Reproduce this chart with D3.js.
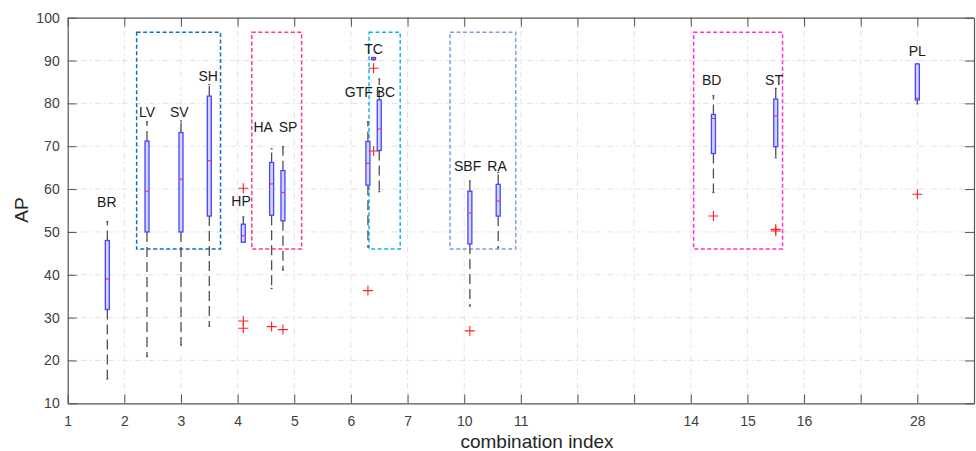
<!DOCTYPE html>
<html>
<head>
<meta charset="utf-8">
<script src="https://cdn.jsdelivr.net/npm/d3@7"></script>
<style>
  body { margin: 0; background: #fff; }
  svg { font-family: "Liberation Sans", Arial, sans-serif; }
</style>
</head>
<body>
<div id="chart"></div>
<script>
// box statistics, one entry per combination
var names   = ["BR", "LV", "SV", "SH", "HP", "HA", "SP", "GTF", "TC", "BC", "SBF", "RA", "BD", "ST", "PL"];
var xPos    = [1.7, 2.4, 3.0, 3.5, 4.1, 4.6, 4.8, 6.3, 6.4, 6.5, 8.1, 8.6, 12.4, 13.5, 16.0];
var q1      = [31.9, 50.0, 50.0, 53.7, 47.6, 53.9, 52.6, 60.9, 90.2, 69.0, 47.2, 53.7, 68.3, 69.9, 80.8];
var medians = [39.0, 59.5, 62.3, 66.6, 49.1, 61.2, 59.2, 66.0, 90.4, 74.0, 54.4, 57.2, 76.5, 77.1, 81.2];
var q3      = [48.0, 71.2, 73.2, 81.7, 51.8, 66.2, 64.3, 71.1, 90.7, 80.8, 59.5, 61.1, 77.4, 81.0, 89.2];
var whiskLo = [15.7, 20.9, 23.6, 28.0, 47.6, 36.8, 41.1, 46.5, 90.2, 59.4, 32.7, 46.3, 59.2, 67.3, 79.9];
var whiskHi = [52.4, 75.7, 75.9, 84.4, 53.5, 69.4, 69.9, 75.7, 90.7, 85.7, 61.9, 63.9, 81.8, 83.5, 89.2];
var outliers = [[], [], [], [], [60.2, 29.2, 27.5], [27.9], [27.2], [36.3], [88.2, 68.9], [], [26.9], [], [53.7], [50.6, 50.2], [58.8]];

// name annotations (data units)
var labelX = [1.69, 2.4, 2.97, 3.48, 4.06, 4.45, 4.89, 6.14, 6.4, 6.61, 8.06, 8.58, 12.37, 13.47, 16.0];
var labelY = [57.0, 78.0, 78.0, 86.4, 57.2, 74.6, 74.6, 82.7, 92.6, 82.7, 65.4, 65.4, 85.4, 85.4, 92.3];

// dashed group frames
var groupX0 = [2.217, 4.25, 6.32, 7.75, 12.05];
var groupX1 = [3.698, 5.13, 6.87, 8.91, 13.62];
var groupY0 = [46.0, 46.0, 46.0, 46.0, 46.0];
var groupY1 = [96.6, 96.6, 96.6, 96.6, 96.6];
var groupColors = ["#0a72c0", "#ff3a80", "#12b4ea", "#7f9fe0", "#ff2fd4"];

var xTickLabels = ["1", "2", "3", "4", "5", "6", "7", "10", "11", "", "", "14", "15", "16", "", "28"];
var yTicks = [10, 20, 30, 40, 50, 60, 70, 80, 90, 100];

var width = 976, height = 451;
var plotL = 67.7, plotR = 974, plotT = 17.7, plotB = 403.3;

var svg = d3.select("#chart").append("svg")
    .attr("width", width)
    .attr("height", height);

var x = d3.scaleLinear().domain([1, 17]).range([plotL, plotR]);
var y = d3.scaleLinear().domain([10, 100]).range([plotB, plotT]);
var xTicks = d3.range(1, 17);

// grid
svg.append("g").selectAll("line")
    .data(xTicks.slice(1))
    .enter().append("line")
    .attr("x1", d => x(d)).attr("x2", d => x(d))
    .attr("y1", plotT).attr("y2", plotB)
    .attr("stroke", "#e2e2ea").attr("stroke-dasharray", "6,3,1.5,3");
svg.append("g").selectAll("line")
    .data(yTicks.slice(1, -1))
    .enter().append("line")
    .attr("x1", plotL).attr("x2", plotR)
    .attr("y1", d => y(d)).attr("y2", d => y(d))
    .attr("stroke", "#e2e2ea").attr("stroke-dasharray", "6,3,1.5,3");

// axes
function styleAxis(g) {
    g.selectAll("path, line").attr("stroke", "#555");
    g.selectAll("text").attr("fill", "#404040").style("font-size", "14px");
}
svg.append("g")
    .attr("transform", "translate(0," + plotB + ")")
    .call(d3.axisBottom(x).tickValues(xTicks).tickFormat((d, i) => xTickLabels[i])
        .tickSizeInner(-9).tickSizeOuter(0).tickPadding(13))
    .call(styleAxis);
svg.append("g")
    .attr("transform", "translate(0," + plotT + ")")
    .call(d3.axisTop(x).tickValues(xTicks).tickFormat("").tickSizeInner(-9).tickSizeOuter(0))
    .call(styleAxis);
svg.append("g")
    .attr("transform", "translate(" + plotL + ",0)")
    .call(d3.axisLeft(y).tickValues(yTicks).tickSizeInner(-9).tickSizeOuter(0).tickPadding(8))
    .call(styleAxis);
svg.append("g")
    .attr("transform", "translate(" + plotR + ",0)")
    .call(d3.axisRight(y).tickValues(yTicks).tickFormat("").tickSizeInner(-9).tickSizeOuter(0))
    .call(styleAxis);

svg.selectAll(".domain").attr("stroke-width", 1.2);

// axis titles
svg.append("text")
    .attr("x", 537).attr("y", 448)
    .attr("text-anchor", "middle")
    .attr("fill", "#262626")
    .style("font-size", "19px")
    .text("combination index");
svg.append("text")
    .attr("transform", "translate(28,210) rotate(-90)")
    .attr("text-anchor", "middle")
    .attr("fill", "#262626")
    .style("font-size", "19px")
    .text("AP");

// group frames
svg.append("g").selectAll("rect")
    .data(groupColors)
    .enter().append("rect")
    .attr("x", (d, i) => x(groupX0[i]))
    .attr("y", (d, i) => y(groupY1[i]))
    .attr("width", (d, i) => x(groupX1[i]) - x(groupX0[i]))
    .attr("height", (d, i) => y(groupY0[i]) - y(groupY1[i]))
    .attr("fill", "none")
    .attr("stroke", d => d)
    .attr("stroke-width", 1.5)
    .attr("stroke-dasharray", "4,2.5");

// boxes
var boxW = 4;
var boxes = svg.append("g").selectAll("g")
    .data(names)
    .enter().append("g");

boxes.append("line")
    .attr("x1", (d, i) => x(xPos[i])).attr("x2", (d, i) => x(xPos[i]))
    .attr("y1", (d, i) => y(q3[i])).attr("y2", (d, i) => y(whiskHi[i]))
    .attr("stroke", "#505050").attr("stroke-width", 1.3).attr("stroke-dasharray", "10,5");
boxes.append("line")
    .attr("x1", (d, i) => x(xPos[i])).attr("x2", (d, i) => x(xPos[i]))
    .attr("y1", (d, i) => y(q1[i])).attr("y2", (d, i) => y(whiskLo[i]))
    .attr("stroke", "#505050").attr("stroke-width", 1.3).attr("stroke-dasharray", "10,5");
// whisker caps
boxes.selectAll(".cap")
    .data((d, i) => [[xPos[i], whiskHi[i]], [xPos[i], whiskLo[i]]])
    .enter().append("line")
    .attr("x1", d => x(d[0]) - 1).attr("x2", d => x(d[0]) + 1)
    .attr("y1", d => y(d[1])).attr("y2", d => y(d[1]))
    .attr("stroke", "#555").attr("stroke-width", 1.3);

boxes.append("rect")
    .attr("x", (d, i) => x(xPos[i]) - boxW / 2)
    .attr("y", (d, i) => y(q3[i]))
    .attr("width", boxW)
    .attr("height", (d, i) => Math.max(y(q1[i]) - y(q3[i]), 1.5))
    .attr("fill", "#d4d4ff")
    .attr("stroke", "#4646ff")
    .attr("stroke-width", 1.3);
boxes.append("line")
    .attr("x1", (d, i) => x(xPos[i]) - boxW / 2 + 0.5)
    .attr("x2", (d, i) => x(xPos[i]) + boxW / 2 - 0.5)
    .attr("y1", (d, i) => y(medians[i])).attr("y2", (d, i) => y(medians[i]))
    .attr("stroke", "#ff3030").attr("stroke-width", 1.2);

// outliers
boxes.selectAll(".out")
    .data((d, i) => outliers[i].map(v => [xPos[i], v]))
    .enter().append("path")
    .attr("d", d => {
        var cx = x(d[0]), cy = y(d[1]);
        return "M" + (cx - 5) + "," + cy + "H" + (cx + 5) + "M" + cx + "," + (cy - 5) + "V" + (cy + 5);
    })
    .attr("stroke", "#ff2020").attr("stroke-width", 1.1).attr("fill", "none");

// names
svg.append("g").selectAll("text")
    .data(names)
    .enter().append("text")
    .attr("x", (d, i) => x(labelX[i]))
    .attr("y", (d, i) => y(labelY[i]))
    .attr("dy", "0.36em")
    .attr("text-anchor", "middle")
    .attr("fill", "#1a1a1a")
    .style("font-size", "14px")
    .text(d => d);
</script>
</body>
</html>
